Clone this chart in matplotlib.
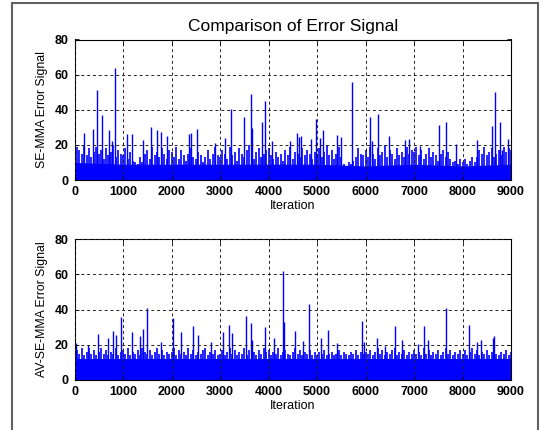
"""Comparison of the SE-MMA and AV-SE-MMA error signals over 9000 iterations.

Values are read off the reference picture: a dense band (one strand height every
50 iterations), a solid floor under it, and the tall isolated spikes.
"""

import matplotlib
matplotlib.use("Agg")

import matplotlib.pyplot as plt
import numpy as np
from matplotlib.patches import Rectangle

plt.rcParams["font.family"] = ["Liberation Sans", "DejaVu Sans"]

BLUE = "#0000FF"
STEP = 50  # iterations between strand samples

# --- SE-MMA (top panel) ---
se_strands = [
    24, 19, 17, 15, 20, 14, 18, 13, 16, 19, 15, 17, 12, 18, 14, 16, 20, 13, 17, 15,
    14, 18, 12, 16, 11, 10, 9, 13, 10, 15, 17, 12, 19, 14, 16, 13, 18, 15, 12, 17,
    16, 13, 19, 12, 17, 14, 11, 15, 18, 13, 12, 16, 14, 10, 13, 17, 12, 15, 19, 14,
    13, 17, 15, 12, 19, 14, 16, 11, 18, 15, 13, 17, 20, 14, 12, 16, 18, 13, 15, 17,
    18, 14, 12, 16, 13, 15, 11, 17, 14, 19, 12, 16, 15, 13, 18, 14, 17, 15, 12, 16,
    15, 18, 13, 16, 20, 14, 17, 12, 15, 19, 13, 9, 8, 10, 9, 11, 13, 18, 15, 14,
    17, 13, 19, 15, 12, 18, 14, 16, 20, 13, 17, 15, 12, 18, 14, 16, 13, 19, 15, 17,
    16, 19, 14, 17, 12, 15, 18, 13, 16, 14, 11, 15, 17, 13, 16, 12, 10, 11, 9, 12,
    10, 12, 9, 11, 13, 10, 13, 17, 15, 19, 14, 16, 18, 13, 15, 17, 14, 19, 16, 18,
    17,
]
se_floor = [10, 9, 9, 9, 9, 9, 8, 9, 8, 9]  # at 0, 1000, ..., 9000
se_spike_iter = [
    189, 390, 457, 574, 711, 766, 835, 1082, 1178, 1418, 1570, 1694, 1776, 1900,
    2367, 2393, 2524, 2903, 3103, 3228, 3504, 3642, 3662, 3856, 3938, 4070, 4435,
    4587, 4628, 4676, 4869, 4986, 5069, 5124, 5421, 5504, 5731, 6083, 6125, 6249,
    6477, 6815, 6904, 7130, 7517, 7669, 7862, 8290, 8600, 8669, 8773, 8821, 8945,
]
se_spike_val = [
    27, 29, 51, 37, 28.6, 22, 64, 26, 26, 22.7, 30, 28.6, 27.6, 25,
    26, 26.5, 29, 21, 24, 40.6, 35.6, 49, 29.5, 33, 44.8, 22, 22,
    27, 24.4, 24.8, 23.4, 35, 24, 28.6, 25.7, 24.6, 56, 35.6, 22.3, 37.7,
    25, 23, 23.2, 19.6, 31.4, 33, 20.4, 22.7, 31, 50, 33, 17, 23.4,
]

# --- AV-SE-MMA (bottom panel) ---
av_strands = [
    19, 17, 15, 18, 14, 16, 18, 15, 17, 14, 16, 18, 15, 17, 14, 16, 15, 18, 14, 16,
    17, 15, 18, 14, 16, 15, 17, 14, 18, 16, 15, 17, 14, 16, 18, 15, 17, 14, 16, 15,
    16, 18, 14, 17, 15, 16, 14, 18, 15, 17, 14, 16, 15, 17, 18, 14, 16, 15, 17, 14,
    15, 17, 14, 16, 18, 15, 17, 14, 16, 15, 18, 14, 17, 15, 16, 14, 17, 15, 18, 16,
    17, 14, 16, 15, 18, 14, 16, 17, 15, 14, 16, 18, 15, 17, 14, 16, 15, 17, 14, 16,
    14, 16, 15, 17, 14, 15, 16, 14, 15, 17, 14, 16, 15, 14, 16, 15, 17, 14, 16, 15,
    16, 15, 17, 14, 16, 18, 15, 17, 14, 16, 15, 17, 18, 14, 16, 15, 17, 14, 16, 15,
    17, 15, 16, 14, 18, 15, 17, 14, 16, 15, 17, 14, 16, 18, 15, 17, 14, 16, 15, 17,
    15, 17, 14, 16, 18, 15, 17, 14, 16, 15, 17, 14, 16, 18, 15, 14, 16, 15, 17, 14,
    16,
]
av_floor = [12, 12, 12, 12, 12, 12, 12, 12, 12, 12]
av_spike_iter = [
    40, 276, 483, 683, 786, 855, 959, 1186, 1345, 1414, 1497, 1787, 2035, 2201,
    2448, 2545, 2821, 3069, 3193, 3248, 3538, 3642, 3662, 3938, 4111, 4290, 4318,
    4539, 4711, 4834, 5090, 5228, 5421, 5918, 5959, 6235, 6401, 6601, 6746, 7082,
    7213, 7289, 7655, 8138, 8290, 8380, 8621, 8655,
]
av_spike_val = [
    21, 20, 26, 24, 28, 25.5, 35.6, 27, 25, 29, 40.8, 21.3, 35, 27,
    30.5, 25.5, 21.3, 27, 31.2, 26.5, 36.2, 32.4, 22.9, 29.9, 23.6, 62, 32.8,
    28, 22.3, 43.2, 23.6, 28.4, 21, 33.5, 21.7, 23.6, 19.4, 30.9, 22.9, 20.4,
    30.9, 22.9, 40.8, 31.2, 21.3, 22.9, 23.6, 25.1,
]

X_TICKS = list(range(0, 9001, 1000))
Y_TICKS = [0, 20, 40, 60, 80]


def draw_signal(ax, strands, floor, spike_iter, spike_val, ylabel):
    strand_x = np.arange(len(strands)) * STEP
    floor_x = np.arange(len(floor)) * 1000
    ax.fill_between(floor_x, 0, floor, color=BLUE, lw=0)
    ax.vlines(strand_x, 0, strands, color=BLUE, lw=1.4, alpha=0.85)
    ax.vlines(spike_iter, 0, spike_val, color=BLUE, lw=1.0)

    ax.set_xlim(0, 9000)
    ax.set_ylim(0, 80)
    ax.set_xticks(X_TICKS)
    ax.set_yticks(Y_TICKS)
    ax.tick_params(direction="in", length=3, width=0.6, top=True, right=True,
                   labelsize=9, pad=4)
    for lab in ax.get_xticklabels() + ax.get_yticklabels():
        lab.set_fontweight("bold")
    ax.grid(True, color="#222222", lw=0.7, linestyle=(0, (3, 3)))
    ax.set_axisbelow(False)
    for sp in ax.spines.values():
        sp.set_linewidth(0.8)
    ax.set_xlabel("Iteration", fontsize=9, labelpad=1.5)
    ax.set_ylabel(ylabel, fontsize=8.8, labelpad=5)


fig = plt.figure(figsize=(5.43, 4.30), dpi=100)
fig.patches.append(Rectangle((11.5 / 543, -0.1), (538 - 11.5) / 543, 1.1 - 3 / 430,
                             transform=fig.transFigure, fill=False,
                             edgecolor="#606060", lw=1.5))

ax1 = fig.add_axes([74.5 / 543, 1 - 180 / 430, 436.5 / 543, 140.5 / 430])
ax2 = fig.add_axes([74.5 / 543, 1 - 380 / 430, 436.5 / 543, 141 / 430])

draw_signal(ax1, se_strands, se_floor, se_spike_iter, se_spike_val, "SE-MMA Error Signal")
draw_signal(ax2, av_strands, av_floor, av_spike_iter, av_spike_val, "AV-SE-MMA Error Signal")
ax1.set_title("Comparison of Error Signal", fontsize=12.5, pad=6)

fig.savefig("out.png", dpi=100)
